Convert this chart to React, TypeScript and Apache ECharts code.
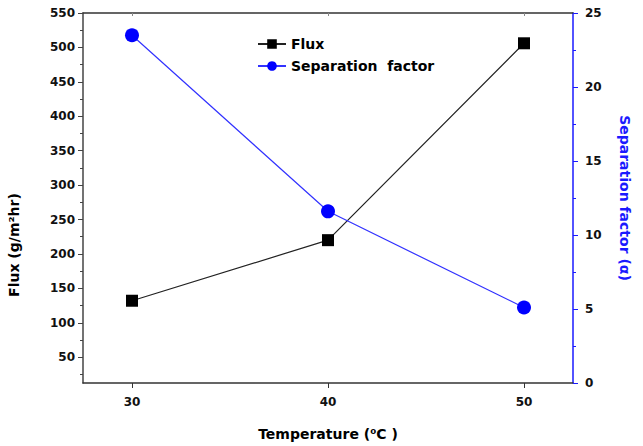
import React, { useEffect, useRef } from "react";
import * as echarts from "echarts";

const temperatures = [30, 40, 50];
const fluxValues = [132, 220, 506];
const separationValues = [23.5, 11.6, 5.1];
const leftTicks = [50, 100, 150, 200, 250, 300, 350, 400, 450, 500, 550];
const leftMinorTicks = [25, 75, 125, 175, 225, 275, 325, 375, 425, 475, 525];
const xTicks = [30, 40, 50];

const FONT = "'DejaVu Sans', Verdana, sans-serif";

export default function App() {
  const ref = useRef<HTMLDivElement>(null);
  useEffect(() => {
    if (!ref.current) return;
    const chart = echarts.init(ref.current, null, { renderer: "svg" });
    const labelStyle = { fontFamily: FONT, fontWeight: "bold" as const, fontSize: 12, color: "#111" };
    chart.setOption({
      animation: false,
      backgroundColor: "#fff",
      grid: { left: 83, right: 70, top: 13, bottom: 59, containLabel: false },
      legend: {
        orient: "vertical",
        left: 252,
        top: 32,
        itemWidth: 28,
        itemHeight: 12,
        itemGap: 8,
        textStyle: { fontFamily: FONT, fontWeight: "bold", fontSize: 14, color: "#000" },
        data: ["Flux", "Separation  factor"],
      },
      xAxis: [
        {
          type: "value",
          min: 27.5,
          max: 52.5,
          position: "bottom",
          axisLine: { lineStyle: { color: "#333", width: 1.5 } },
          axisTick: { customValues: xTicks, length: 5, lineStyle: { color: "#333" } },
          axisLabel: { ...labelStyle, customValues: xTicks, margin: 13 },
          splitLine: { show: false },
          name: "Temperature (⁰C )",
          nameLocation: "middle",
          nameGap: 44,
          nameTextStyle: { fontFamily: FONT, fontWeight: "bold", fontSize: 14, color: "#000" },
        },
        {
          type: "value",
          min: 27.5,
          max: 52.5,
          position: "top",
          axisLine: { lineStyle: { color: "#333", width: 1.5 } },
          axisTick: { inside: true, customValues: xTicks, length: 3, lineStyle: { color: "#888" } },
          axisLabel: { show: false },
          splitLine: { show: false },
        },
      ],
      yAxis: [
        {
          type: "value",
          min: 12.5,
          max: 550,
          position: "left",
          axisLine: { show: true, lineStyle: { color: "#444", width: 1.5 } },
          axisTick: { show: true, customValues: leftTicks, length: 5, lineStyle: { color: "#444" } },
          axisLabel: { ...labelStyle, customValues: leftTicks, margin: 8 },
          splitLine: { show: false },
        },
        {
          type: "value",
          min: 0,
          max: 25,
          interval: 5,
          position: "right",
          axisLine: { show: true, lineStyle: { color: "#1a1aff", width: 1.5 } },
          axisTick: { show: true, length: 5, lineStyle: { color: "#1a1aff" } },
          minorTick: { show: true, splitNumber: 2, length: 3, lineStyle: { color: "#1a1aff" } },
          axisLabel: { ...labelStyle, margin: 12 },
          splitLine: { show: false },
          name: "Separation factor (α)",
          nameLocation: "middle",
          nameGap: 45,
          nameRotate: -90,
          nameTextStyle: { fontFamily: FONT, fontWeight: "bold", fontSize: 14, color: "#1a1aff" },
        },
        {
          type: "value",
          min: 12.5,
          max: 550,
          position: "left",
          axisLine: { show: false },
          axisTick: { show: true, customValues: leftMinorTicks, length: 3, lineStyle: { color: "#444" } },
          axisLabel: { show: false },
          splitLine: { show: false },
        },
      ],
      graphic: [
        {
          type: "text",
          x: 14,
          y: 245,
          rotation: Math.PI / 2,
          style: {
            text: "Flux (g/m²hr)",
            fontFamily: FONT,
            fontWeight: "bold",
            fontSize: 14,
            fill: "#000",
            textAlign: "center",
            textVerticalAlign: "middle",
          },
        },
      ],
      series: [
        {
          name: "Flux",
          type: "line",
          xAxisIndex: 0,
          yAxisIndex: 0,
          data: temperatures.map((t, i) => [t, fluxValues[i]]),
          symbol: "rect",
          symbolSize: 12,
          itemStyle: { color: "#000" },
          lineStyle: { color: "#222", width: 1.2 },
        },
        {
          name: "Separation  factor",
          type: "line",
          xAxisIndex: 0,
          yAxisIndex: 1,
          data: temperatures.map((t, i) => [t, separationValues[i]]),
          symbol: "circle",
          symbolSize: 14,
          itemStyle: { color: "#0000ff" },
          lineStyle: { color: "#3333ff", width: 1.2 },
        },
      ],
    });
    return () => chart.dispose();
  }, []);
  return <div ref={ref} style={{ width: 643, height: 446, position: "absolute", left: 0, top: 0 }} />;
}
